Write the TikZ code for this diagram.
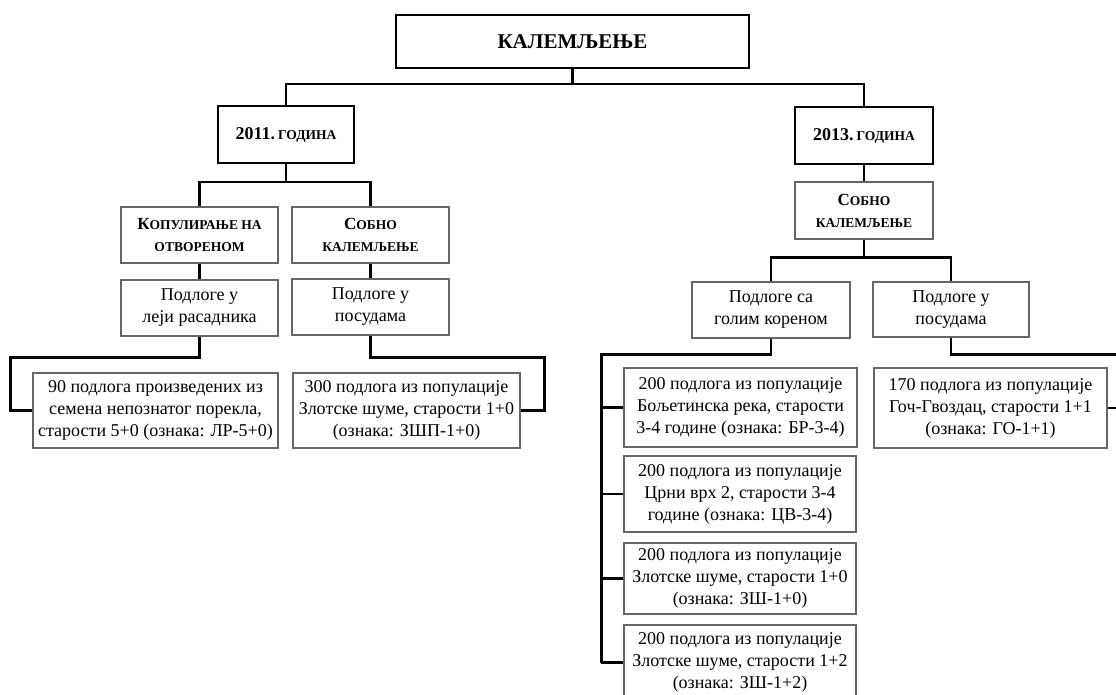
\documentclass[tikz,border=0pt]{standalone}
\usepackage{fontspec}
\setmainfont{Liberation Serif}
\usepackage{tikz}
\usetikzlibrary{positioning}

\newcommand{\smc}[1]{{\fontsize{13.5}{15}\selectfont #1}}
\newcommand{\bigc}[1]{{\fontsize{17}{22}\selectfont #1}}

\begin{document}
\begin{tikzpicture}[x=1pt,y=-1pt,
box/.style={draw=black!60, line width=1.1pt, align=center, inner sep=0pt,
    font=\fontsize{18}{22}\selectfont},
head/.style={box, draw=black, line width=2.4pt, font=\fontsize{18}{22}\selectfont\bfseries},
sub/.style={box, font=\fontsize{18}{22}\selectfont\bfseries},
wh/.style 2 args={minimum width=#1pt, minimum height=#2pt},
conn/.style={line width=2.2pt}]
\useasboundingbox (0,0) rectangle (1116,695);

% top and years
\node[head, wh={353}{53}] (top) at (572.5,41.5) {\fontsize{21}{24}\selectfont КАЛЕМЉЕЊЕ};
\node[head, wh={136}{57}] (y11) at (286,134.5) {2011.\,\smc{ГОДИНА}};
\node[head, wh={138}{57}] (y13) at (864,135.5) {2013.\,\smc{ГОДИНА}};

% 2011
\node[sub, wh={157}{56}] (kop) at (199.5,235) {\bigc{К}\smc{ОПУЛИРАЊЕ НА}\\\smc{ОТВОРЕНОМ}};
\node[sub, wh={157}{56}] (sob1) at (370.5,235) {\bigc{С}\smc{ОБНО}\\\smc{КАЛЕМЉЕЊЕ}};
\node[box, wh={157}{56}] (lej) at (199.5,308) {Подлоге у\\леји расадника};
\node[box, wh={157}{56}] (pos1) at (370.5,307) {Подлоге у\\посудама};
\node[box, wh={245}{75}] (b90) at (155.5,410.5) {90 подлога произведених из\\семена непознатог порекла,\\старости 5+0 (ознака: ЛР-5+0)};
\node[box, wh={227}{75}] (b300) at (406.5,410.5) {300 подлога из популације\\Злотске шуме, старости 1+0\\(ознака: ЗШП-1+0)};

% 2013
\node[sub, wh={138}{57}] (sob2) at (864,210.5) {\bigc{С}\smc{ОБНО}\\\smc{КАЛЕМЉЕЊЕ}};
\node[box, wh={158}{56}] (gol) at (771,310) {Подлоге са\\голим кореном};
\node[box, wh={156}{55}] (pos2) at (951,309.5) {Подлоге у\\посудама};
\node[box, wh={233}{79}] (bol) at (740.5,407.5) {200 подлога из популације\\Бољетинска река, старости\\3-4 године (ознака: БР-3-4)};
\node[box, wh={232}{76}] (crn) at (740,494) {200 подлога из популације\\Црни врх 2, старости 3-4\\године (ознака: ЦВ-3-4)};
\node[box, wh={232}{71}] (zl10) at (740,578.5) {200 подлога из популације\\Злотске шуме, старости 1+0\\(ознака: ЗШ-1+0)};
\node[box, wh={232}{75}] (zl12) at (740,662.5) {200 подлога из популације\\Злотске шуме, старости 1+2\\(ознака: ЗШ-1+2)};
\node[box, wh={233}{80}] (g170) at (990.5,408) {170 подлога из популације\\Гоч-Гвоздац, старости 1+1\\(ознака: ГО-1+1)};

% connectors
\draw[conn] (top.south) -- ++(0,15) -| (y11.north);
\draw[conn] (top.south) -- ++(0,15) -| (y13.north);
\draw[conn] (y11.south) -- ++(0,18) -| (kop.north);
\draw[conn] (y11.south) -- ++(0,18) -| (sob1.north);
\draw[conn] (kop) -- (lej);
\draw[conn] (sob1) -- (pos1);
\draw[conn] (lej.south) -- ++(0,21) -| ([xshift=-22pt]b90.west) -- (b90.west);
\draw[conn] (pos1.south) -- ++(0,22) -| ([xshift=24pt]b300.east) -- (b300.east);
\draw[conn] (y13) -- (sob2);
\draw[conn] (sob2.south) -- ++(0,18) -| (gol.north);
\draw[conn] (sob2.south) -- ++(0,18) -| (pos2.north);
\draw[conn] (gol.south) -- ++(0,16) -| ([xshift=-22pt]zl12.west);
\foreach \b in {bol,crn,zl10,zl12}
  \draw[conn] (\b.west) -- ++(-22,0);
\draw[conn] (pos2.south) -- ++(0,17) -| ([xshift=11pt]g170.east) -- (g170.east);
\end{tikzpicture}
\end{document}
